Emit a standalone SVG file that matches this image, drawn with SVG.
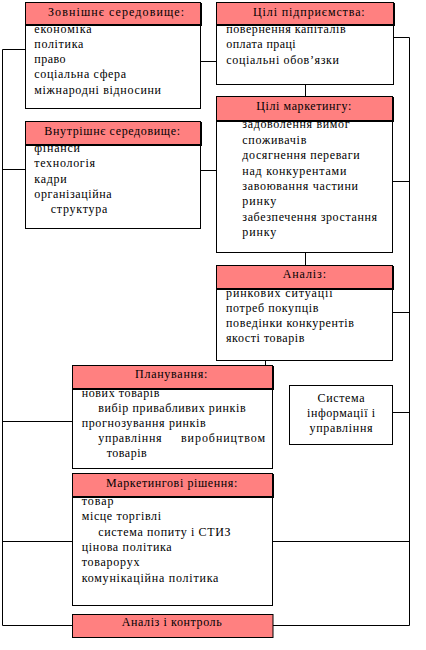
<svg xmlns="http://www.w3.org/2000/svg" width="426" height="650" viewBox="0 0 426 650">
<style>
  text { font-family: "Liberation Serif", "DejaVu Serif", serif; font-size: 12px; fill: #000; }
  .body { fill: #fff; stroke: #000; stroke-width: 1; }
  .hdr { fill: #ff8080; stroke: #000; stroke-width: 1; }
  .shd { fill: #000; }
  .c { fill: none; stroke: #000; stroke-width: 1; }
</style>
<rect width="426" height="650" fill="#fff"/>
<g id="connectors">
  <path class="c" d="M2.5 49.5 V625.5"/>
  <path class="c" d="M2.5 49.5 H25.5"/>
  <path class="c" d="M2.5 169.5 H25.5"/>
  <path class="c" d="M2.5 421.5 H72.5"/>
  <path class="c" d="M2.5 541.5 H72.5"/>
  <path class="c" d="M2.5 625.5 H72.5"/>
  <path class="c" d="M409.5 37.5 V625.5"/>
  <path class="c" d="M393.5 37.5 H409.5"/>
  <path class="c" d="M392.5 181.5 H409.5"/>
  <path class="c" d="M392.5 312.5 H409.5"/>
  <path class="c" d="M392.5 412.5 H409.5"/>
  <path class="c" d="M272.5 541.5 H409.5"/>
  <path class="c" d="M272.5 625.5 H409.5"/>
  <path class="c" d="M200.5 61.5 H216.5"/>
  <path class="c" d="M200.5 170.5 H216.5"/>
  <path class="c" d="M305.5 84.5 V96.5"/>
  <path class="c" d="M305.5 252.5 V265.5"/>
  <path class="c" d="M265.5 360.5 V365.5"/>
</g>
<g id="zovnishnie">
  <rect class="body" x="25.5" y="24.5" width="175" height="84"/>
  <text x="34.3" y="32.5" textLength="57.3">економіка</text>
  <text x="34.3" y="47.7" textLength="49">політика</text>
  <text x="34.3" y="63" textLength="31.3">право</text>
  <text x="34.3" y="78.3" textLength="91.7">соціальна сфера</text>
  <text x="34.3" y="93.5" textLength="126.7">міжнародні відносини</text>
  <rect class="shd" x="26" y="3" width="176" height="23"/>
  <rect class="hdr" x="25.5" y="2.5" width="175" height="22"/>
  <text x="48" y="15.5" textLength="136">Зовнішнє середовище:</text>
</g>
<g id="tsili-pidpryiemstva">
  <rect class="body" x="216.5" y="24.5" width="177" height="60"/>
  <text x="226.3" y="32.7" textLength="119.3">повернення капіталів</text>
  <text x="226.3" y="47.7" textLength="69.3">оплата праці</text>
  <text x="226.3" y="63.5" textLength="112.7">соціальні обов’язки</text>
  <rect class="shd" x="217" y="3" width="178" height="23"/>
  <rect class="hdr" x="216.5" y="2.5" width="177" height="22"/>
  <text x="253" y="15.5" textLength="111.7">Цілі підприємства:</text>
</g>
<g id="vnutrishnie">
  <rect class="body" x="25.5" y="144.5" width="175" height="84"/>
  <text x="34.3" y="151.7" textLength="45.7">фінанси</text>
  <text x="34.3" y="166.7" textLength="60.7">технологія</text>
  <text x="34.3" y="182.5" textLength="32.3">кадри</text>
  <text x="34.3" y="198.2" textLength="77.3">організаційна</text>
  <text x="50.7" y="213.3" textLength="56.7">структура</text>
  <rect class="shd" x="26" y="122" width="176" height="24"/>
  <rect class="hdr" x="25.5" y="121.5" width="175" height="23"/>
  <text x="44.3" y="134.5" textLength="135.7">Внутрішнє середовище:</text>
</g>
<g id="tsili-marketyngu">
  <rect class="body" x="216.5" y="120.5" width="176" height="132"/>
  <text x="242.3" y="128.3" textLength="107.3">задоволення вимог</text>
  <text x="242.3" y="143.8" textLength="64">споживачів</text>
  <text x="242.3" y="159.2" textLength="117.3">досягнення переваги</text>
  <text x="242.3" y="174.5" textLength="104">над конкурентами</text>
  <text x="242.3" y="189.8" textLength="115.7">завоювання частини</text>
  <text x="242.3" y="205.2" textLength="34">ринку</text>
  <text x="242.3" y="220.5" textLength="134.7">забезпечення зростання</text>
  <text x="242.3" y="235.8" textLength="34">ринку</text>
  <rect class="shd" x="217" y="97" width="177" height="25"/>
  <rect class="hdr" x="216.5" y="96.5" width="176" height="24"/>
  <text x="256.3" y="110.2" textLength="95">Цілі маркетингу:</text>
</g>
<g id="analiz">
  <rect class="body" x="216.5" y="288.5" width="176" height="72"/>
  <text x="226" y="296.7" textLength="106.7">ринкових  ситуації</text>
  <text x="226" y="311.8" textLength="92.3">потреб покупців</text>
  <text x="226" y="327.3" textLength="128">поведінки конкурентів</text>
  <text x="226" y="342.3" textLength="78.3">якості товарів</text>
  <rect class="shd" x="217" y="266" width="177" height="24"/>
  <rect class="hdr" x="216.5" y="265.5" width="176" height="23"/>
  <text x="282.7" y="278.2" textLength="43.3">Аналіз:</text>
</g>
<g id="planuvannia">
  <rect class="body" x="72.5" y="388.5" width="200" height="80"/>
  <text x="81.7" y="396.7" textLength="77.7">нових  товарів</text>
  <text x="98.3" y="411.8" textLength="147.3">вибір привабливих ринків</text>
  <text x="81.7" y="427.3" textLength="124">прогнозування ринків</text>
  <text x="98.3" y="442.3" textLength="63.3">управління</text>
  <text x="181" y="442.3" textLength="84">виробництвом</text>
  <text x="106.7" y="456.8" textLength="40">товарів</text>
  <rect class="shd" x="73" y="366" width="201" height="24"/>
  <rect class="hdr" x="72.5" y="365.5" width="200" height="23"/>
  <text x="135" y="378.2" textLength="72.3">Планування:</text>
</g>
<g id="systema">
  <rect class="body" x="289.5" y="385.5" width="103" height="59"/>
  <text x="317.5" y="401.7" textLength="47">Система</text>
  <text x="307" y="416.7" textLength="68">інформації і</text>
  <text x="309.5" y="431.7" textLength="63">управління</text>
</g>
<g id="rishennia">
  <rect class="body" x="72.5" y="496.5" width="200" height="109"/>
  <text x="81.7" y="505" textLength="31.7">товар</text>
  <text x="81.7" y="520.3" textLength="79.3">місце торгівлі</text>
  <text x="98.3" y="535.7" textLength="132.3">система попиту і СТИЗ</text>
  <text x="81.7" y="550.5" textLength="90">цінова політика</text>
  <text x="81.7" y="566" textLength="57.7">товарорух</text>
  <text x="81.7" y="581.5" textLength="136.7">комунікаційна політика</text>
  <rect class="shd" x="73" y="474" width="201" height="24"/>
  <rect class="hdr" x="72.5" y="473.5" width="200" height="23"/>
  <text x="106" y="487" textLength="131.3">Маркетингові рішення:</text>
</g>
<g id="analiz-kontrol">
  <rect class="hdr" x="72.5" y="614.5" width="200.5" height="23"/>
  <text x="121.7" y="626.2" textLength="100">Аналіз і контроль</text>
</g>
</svg>
